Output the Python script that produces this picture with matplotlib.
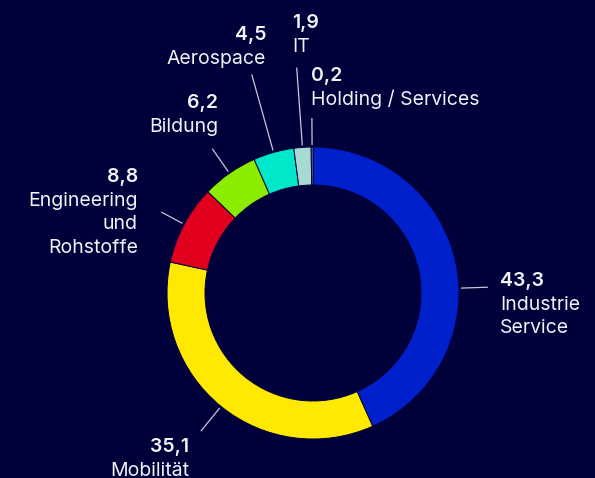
import numpy as np
import matplotlib
matplotlib.use("Agg")
import matplotlib.pyplot as plt

# ---- data ----
categories = ["Industrie\nService", "Mobilität", "Engineering\nund\nRohstoffe",
              "Bildung", "Aerospace", "IT", "Holding / Services"]
values = [43.3, 35.1, 8.8, 6.2, 4.5, 1.9, 0.2]
value_labels = ["43,3", "35,1", "8,8", "6,2", "4,5", "1,9", "0,2"]
colors = ["#0020cc", "#ffe900", "#e2001f", "#8bec00", "#00e8c9", "#a9d9d3", "#8a8fa0"]

BG = "#00003a"
W, H = 595, 478
fig = plt.figure(figsize=(W / 100, H / 100), dpi=100, facecolor=BG)
ax = fig.add_axes([0, 0, 1, 1])
ax.set_facecolor(BG)

cx, cy = 313, H - 293
R = 146
ring = 38
wedges, _ = ax.pie(values, colors=colors, startangle=90, counterclock=False,
                   radius=R, center=(cx, cy), frame=True,
                   wedgeprops=dict(width=ring, edgecolor=BG, linewidth=0.7))
ax.set_xlim(0, W)
ax.set_ylim(0, H)
ax.set_aspect("equal")
ax.axis("off")

# ---- layout (pixel positions of label anchors, leader lengths) ----
# (x, first_baseline_y, ha, leader_r_end, angle_override)
layout = [
    (500, 286, "left", 175, 1.9),
    (189, 452, "right", 178, None),
    (138, 182, "right", 172, None),
    (218, 108, "right", 176, None),
    (266, 40, "right", 227, None),
    (292, 28, "left", 226, None),
    (311, 81, "left", 175, None),
]

FONT = ["Inter", "DejaVu Sans"]
fs = 14.0
line_h = 23.5
txtcol = "#f2f2f7"
for w, vl, cat, (x, yb, ha, rend, aover) in zip(wedges, value_labels, categories, layout):
    ang = aover if aover is not None else 0.5 * (w.theta1 + w.theta2)
    a = np.deg2rad(ang)
    r0 = R + 2
    ax.plot([cx + r0 * np.cos(a), cx + rend * np.cos(a)],
            [cy + r0 * np.sin(a), cy + rend * np.sin(a)],
            color="#c8c8d8", lw=0.9, solid_capstyle="butt")
    ax.text(x, H - yb, vl, ha=ha, va="baseline", color=txtcol, fontsize=fs,
            fontweight="semibold", family=FONT)
    for i, ln in enumerate(cat.split("\n")):
        ax.text(x, H - yb - line_h * (i + 1), ln, ha=ha, va="baseline",
                color=txtcol, fontsize=fs, family=FONT)

fig.savefig("out.png", dpi=100, facecolor=BG)
